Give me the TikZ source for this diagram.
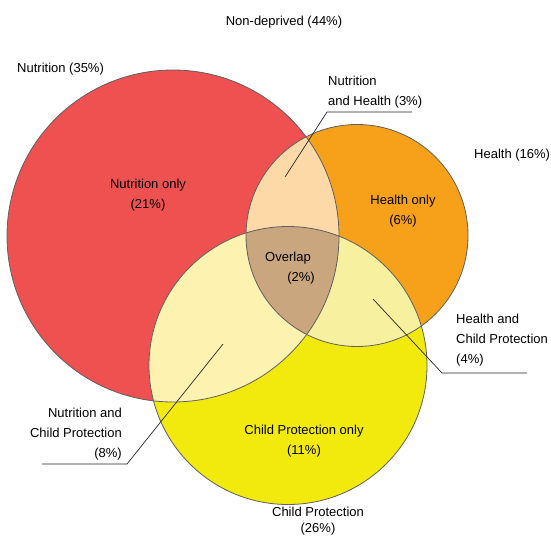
\documentclass[tikz,border=0pt]{standalone}
\usepackage{fontspec}
\setmainfont{Liberation Sans}
\definecolor{nutr}{HTML}{EF5050}
\definecolor{heal}{HTML}{F7A11A}
\definecolor{chpr}{HTML}{F2E90D}
\definecolor{nh}{HTML}{FDD9A8}
\definecolor{nc}{HTML}{FDF2B0}
\definecolor{hc}{HTML}{F7F09E}
\definecolor{ov}{HTML}{C9A67E}
\definecolor{edge}{HTML}{606060}
\tikzset{
  lbl/.style={font=\fontsize{13}{20}\selectfont, inner sep=0pt, text=black},
  ring/.style={draw=edge, line width=0.8pt},
  leader/.style={draw=black!85, line width=0.7pt}
}
\begin{document}
\begin{tikzpicture}[x=1pt,y=-1pt]
\useasboundingbox (0,0) rectangle (551,538);
\def\NC{(173,236) circle (166)}
\def\HC{(357,235.5) circle (111)}
\def\CC{(288,365.5) circle (139)}
% base fills
\fill[nutr] \NC;
\fill[heal] \HC;
\fill[chpr] \CC;
% pairwise intersections
\begin{scope}\clip \NC; \fill[nh] \HC; \fill[nc] \CC; \end{scope}
\begin{scope}\clip \HC; \fill[hc] \CC; \end{scope}
\begin{scope}\clip \NC; \clip \HC; \fill[ov] \CC; \end{scope}
% outlines
\draw[ring] \NC;
\draw[ring] \HC;
\draw[ring] \CC;
% labels
\node[lbl] (nondep) at (284,22) {Non-deprived (44\%)};
\node[lbl, anchor=west] (nutr) at (17,69) {Nutrition (35\%)};
\node[lbl, anchor=west] (heal) at (474,155) {Health (16\%)};
\node[lbl, align=center] (nonly) at (148,195.5) {Nutrition only\\(21\%)};
\node[lbl, align=center] (honly) at (403,211) {Health only\\(6\%)};
\node[lbl] (ov1) at (288,258) {Overlap};
\node[lbl] (ov2) at (301,278) {(2\%)};
\node[lbl, align=center] (conly) at (304,441.5) {Child Protection only\\(11\%)};
\node[lbl, align=center, font=\fontsize{13}{16}\selectfont] (cp) at (318,521.5) {Child Protection\\(26\%)};
\node[lbl, align=left, anchor=west] (nhlab) at (328,92) {Nutrition\\and Health (3\%)};
\node[lbl, align=left, anchor=west] (hclab) at (456,340.5) {Health and\\Child Protection\\(4\%)};
\node[lbl, align=right, anchor=east] (nclab) at (122,434) {Nutrition and\\Child Protection\\(8\%)};
% leader lines
\coordinate (nhA) at (285,177);
\coordinate (nhB) at (327,112);
\coordinate (nhC) at (412,112);
\coordinate (hcA) at (373,299);
\coordinate (hcB) at (442,373);
\coordinate (hcC) at (527,373);
\coordinate (ncA) at (223,344);
\coordinate (ncB) at (127,464);
\coordinate (ncC) at (42,464);
\draw[leader] (nhA) -- (nhB) -- (nhC);
\draw[leader] (hcA) -- (hcB) -- (hcC);
\draw[leader] (ncA) -- (ncB) -- (ncC);
\end{tikzpicture}
\end{document}
